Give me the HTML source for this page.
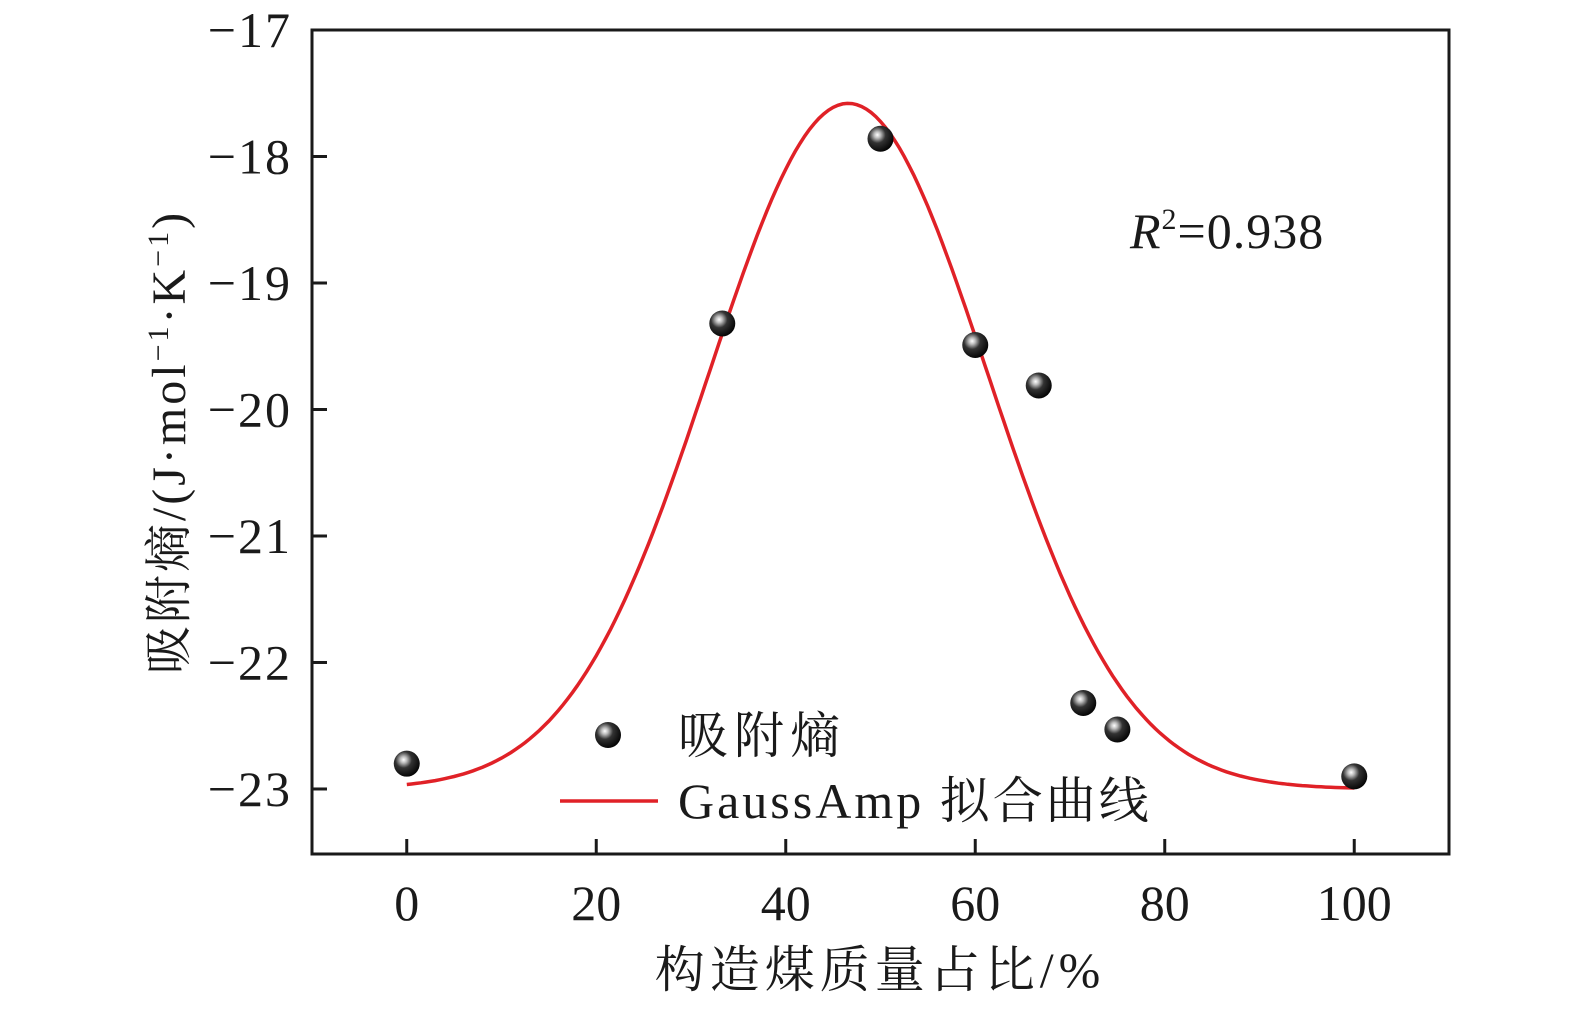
<!DOCTYPE html>
<html><head><meta charset="utf-8">
<style>
html,body{margin:0;padding:0;background:#fff;}
svg text{font-family:"Liberation Serif","Noto Serif CJK SC",serif;fill:#1a1a1a;}
</style></head>
<body>
<svg id="chart" width="1575" height="1007" viewBox="0 0 1575 1007" xmlns="http://www.w3.org/2000/svg">
<defs>
<radialGradient id="ball" cx="0.38" cy="0.35" r="0.7">
<stop offset="0" stop-color="#ffffff"/>
<stop offset="0.18" stop-color="#bbbbbb"/>
<stop offset="0.45" stop-color="#333333"/>
<stop offset="1" stop-color="#000000"/>
</radialGradient>
</defs>
<g id="axes"></g>
<g id="curve"></g>
<g id="points"></g>
<g id="legend"></g>
</svg>
<script>
const xs = [0, 33.3, 50, 60, 66.7, 71.4, 75, 100];
const ys = [-22.80, -19.32, -17.86, -19.49, -19.81, -22.32, -22.53, -22.90];
const xTicks = [0, 20, 40, 60, 80, 100];
const yTicks = [-23, -22, -21, -20, -19, -18, -17];
const fitParams = [-23.0, 5.42, 46.6, 14.7]; // y0, A, xc, w

const L=312,R=1449,T=30,B=854;
const X0=-10,X1=110,Y0=-23.514,Y1=-17;
const sx=v=>L+(v-X0)/(X1-X0)*(R-L);
const sy=v=>B-(v-Y0)/(Y1-Y0)*(B-T);
const NS="http://www.w3.org/2000/svg";
function mk(parent,tag,attrs,text){const e=document.createElementNS(NS,tag);for(const k in attrs)e.setAttribute(k,attrs[k]);if(text!==undefined)e.textContent=text;document.getElementById(parent).appendChild(e);return e;}

let fr=mk('axes','rect',{x:L,y:T,width:R-L,height:B-T,fill:'none',stroke:'#1a1a1a','stroke-width':3});


xTicks.forEach(v=>{
  let t=mk('axes','line',{x1:sx(v),x2:sx(v),y1:B,y2:B-15,stroke:'#1a1a1a','stroke-width':3});
  
  
  let l=mk('axes','text',{x:sx(v),y:920,'text-anchor':'middle','font-size':50},String(v));
  
  
});
yTicks.forEach(v=>{
  let t=mk('axes','line',{x1:L,x2:L+15,y1:sy(v),y2:sy(v),stroke:'#1a1a1a','stroke-width':3});
  
  
  let l=mk('axes','text',{x:292,y:sy(v)+17,'text-anchor':'end','font-size':50,'letter-spacing':2},'\u2212'+Math.abs(v));
  
  
});
let xt=mk('axes','text',{x:880,y:987,'text-anchor':'middle','font-size':50,'letter-spacing':5},'构造煤质量占比/%');


let yt=mk('axes','text',{x:0,y:0,'text-anchor':'middle','font-size':48,'letter-spacing':3,transform:'translate(185,442) rotate(-90)'});


yt.innerHTML='吸附熵/(J·mol<tspan dy="-17" font-size="30">−1</tspan><tspan dy="17">·K</tspan><tspan dy="-17" font-size="30">−1</tspan><tspan dy="17">)</tspan>';
let r2=mk('axes','text',{x:1130,y:248,'font-size':50,'letter-spacing':1});


r2.innerHTML='<tspan font-style="italic">R</tspan><tspan dy="-19" font-size="30">2</tspan><tspan dy="19">=0.938</tspan>';

const [fy0,fA,fxc,fw]=fitParams;
let d='';
for(let i=0;i<=200;i++){const x=i/2;const y=fy0+fA*Math.exp(-((x-fxc)**2)/(2*fw*fw));d+=(i?'L':'M')+sx(x).toFixed(1)+','+sy(y).toFixed(1);}
let c=mk('curve','path',{d:d,fill:'none',stroke:'#e02127','stroke-width':3.5});


xs.forEach((x,i)=>{
  let p=mk('points','circle',{cx:sx(x),cy:sy(ys[i]),r:13,fill:'url(#ball)'});
  
  
});
let lp=mk('legend','circle',{cx:608,cy:735,r:13,fill:'url(#ball)'});


let lt1=mk('legend','text',{x:678,y:753,'font-size':50,'letter-spacing':6},'吸附熵');


let ll=mk('legend','line',{x1:560,x2:658,y1:801,y2:801,stroke:'#e02127','stroke-width':3.5});


let lt2=mk('legend','text',{x:678,y:818,'font-size':50,'letter-spacing':3},'GaussAmp 拟合曲线');


</script>
</body></html>
